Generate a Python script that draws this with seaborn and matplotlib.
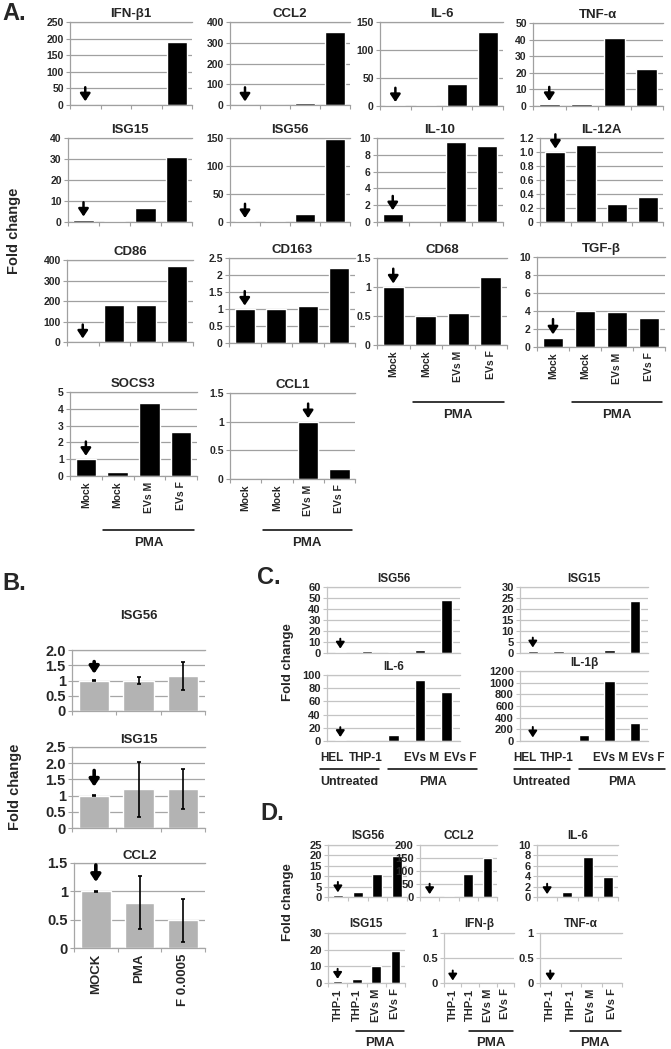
import numpy as np
import matplotlib
matplotlib.use("Agg")
import matplotlib.pyplot as plt
import matplotlib.transforms as mtransforms
import seaborn as sns

sns.set_style("white")
plt.rcParams["font.family"] = ["Liberation Sans", "DejaVu Sans"]
plt.rcParams["font.weight"] = "bold"

W, H = 671, 1049

# ---------------- Panel A data ----------------
a_labels = ["Mock", "Mock", "EVs M", "EVs F"]
a_ifnb1 = [1, 0.2, 0.5, 190]
a_ccl2 = [1, 0.5, 8, 350]
a_il6 = [1, 1, 40, 132]
a_tnfa = [1, 1, 41, 22]
a_isg15 = [1, 0.3, 6.6, 31]
a_isg56 = [1, 1, 15, 148]
a_il10 = [1, 0.02, 9.5, 9.0]
a_il12a = [1.0, 1.1, 0.26, 0.36]
a_cd86 = [1, 180, 180, 370]
a_cd163 = [1, 1, 1.08, 2.22]
a_cd68 = [1, 0.5, 0.55, 1.17]
a_tgfb = [1, 4.0, 3.85, 3.2]
a_socs3 = [1, 0.25, 4.35, 2.6]
a_ccl1 = [0, 0, 1, 0.17]

# ---------------- Panel B data ----------------
b_labels = ["MOCK", "PMA", "F 0.0005"]
b_isg56 = [1.0, 1.0, 1.15]
b_isg56_err = [0.005, 0.12, 0.45]
b_isg15 = [1.0, 1.19, 1.2]
b_isg15_err = [0.005, 0.84, 0.62]
b_ccl2 = [1.0, 0.8, 0.49]
b_ccl2_err = [0.005, 0.47, 0.38]

# ---------------- Panel C data ----------------
c_labels = ["HEL", "THP-1", "EVs M", "EVs F"]
c_isg56 = [1, 1.5, 0.5, 2.5, 48]
c_isg15 = [1, 1, 0.5, 1.2, 23.5]
c_il6 = [1, 0.5, 8.5, 92, 75]
c_il1b = [1, 1, 108, 1030, 310]

# ---------------- Panel D data ----------------
d_labels = ["THP-1", "THP-1", "EVs M", "EVs F"]
d_isg56 = [1, 2.5, 11, 19.5]
d_ccl2 = [1, 2, 90, 150]
d_il6 = [0.05, 1, 7.7, 3.8]
d_isg15 = [1, 2.2, 10.5, 19.5]
d_ifnb = [0, 0, 0, 0]
d_tnfa = [0, 0, 0, 0]


def px_axes(fig, x0, y0, x1, y1):
    return fig.add_axes([x0 / W, 1 - y1 / H, (x1 - x0) / W, (y1 - y0) / H])


def bar_panel(fig, box, title, values, yticks, ylabels=None, color="black", width=0.65,
              arrow=None, arrow_gap=0.04, arrow_len=0.17, arrow_lw=1.8, head=0.3,
              grid="#a0a0a0", tsize=9.5, ysize=7.5, pad=3.5, err=None,
              xlabels=None, xsize=7.5, boundary_ticks=True):
    ax = px_axes(fig, *box)
    n = len(values)
    sns.barplot(x=np.arange(n), y=values, color=color, width=width, saturation=1,
                errorbar=None, ax=ax)
    if err is not None:
        ax.errorbar(np.arange(n), values, yerr=err, fmt="none", ecolor="black",
                    elinewidth=1.2, capsize=1.5, capthick=1.2)
    ax.set_xlim(-0.5, n - 0.5)
    ax.set_ylim(yticks[0], yticks[-1])
    ax.set_yticks(yticks)
    if ylabels is None:
        ylabels = [f"{t:g}" for t in yticks]
    ax.set_yticklabels(ylabels, fontsize=ysize, fontweight="bold")
    ax.yaxis.grid(True, color=grid, lw=0.9)
    ax.set_axisbelow(True)
    ax.set_xlabel("")
    ax.set_ylabel("")
    for side in ["left", "bottom", "top"]:
        ax.spines[side].set_color(grid)
        ax.spines[side].set_linewidth(0.9)
    ax.spines["right"].set_visible(False)
    ax.tick_params(axis="y", length=3, width=0.8, color=grid, pad=1.5, left=True)
    ax.tick_params(axis="x", which="major", length=0)
    if boundary_ticks:
        ax.set_xticks(np.arange(n + 1) - 0.5, minor=True)
        ax.tick_params(axis="x", which="minor", length=3, width=0.8, color=grid, bottom=True)
    if xlabels is not None:
        ax.set_xticks(range(len(xlabels)))
        ax.set_xticklabels(xlabels, rotation=90, fontsize=xsize, fontweight="bold")
        ax.tick_params(axis="x", which="major", pad=4)
    else:
        ax.set_xticks(range(n))
        ax.set_xticklabels([])
    ax.set_title(title, fontsize=tsize, fontweight="bold", pad=pad)
    if arrow is not None:
        top = yticks[-1]
        tip = values[arrow] + arrow_gap * top
        ax.annotate("", xy=(arrow, tip), xytext=(arrow, tip + arrow_len * top),
                    arrowprops=dict(arrowstyle=f"-|>,head_width={head},head_length={head * 1.5}",
                                    color="black", lw=arrow_lw, shrinkA=0, shrinkB=0),
                    annotation_clip=False)
    return ax


def group_label(fig, ax, x0, x1, y_line, y_text, text, size=9.5):
    tr = mtransforms.blended_transform_factory(ax.transData, fig.transFigure)
    ax.plot([x0, x1], [1 - y_line / H] * 2, transform=tr, color="black", lw=1.1, clip_on=False)
    ax.text((x0 + x1) / 2, 1 - y_text / H, text, transform=tr, ha="center", va="center",
            fontsize=size, fontweight="bold")


fig = plt.figure(figsize=(W / 100, H / 100), dpi=100)

# ---------------- Panel A ----------------
bar_panel(fig, (70, 22, 192, 105), "IFN-β1", a_ifnb1, [0, 50, 100, 150, 200, 250], arrow=0)
bar_panel(fig, (230, 22, 350, 105), "CCL2", a_ccl2, [0, 100, 200, 300, 400], arrow=0)
bar_panel(fig, (380, 22, 503, 106), "IL-6", a_il6, [0, 50, 100, 150], arrow=0)
bar_panel(fig, (533, 23, 663, 106), "TNF-α", a_tnfa, [0, 10, 20, 30, 40, 50], arrow=0)

bar_panel(fig, (68, 138, 192, 222), "ISG15", a_isg15, [0, 10, 20, 30, 40], arrow=0)
bar_panel(fig, (230, 138, 350, 222), "ISG56", a_isg56, [0, 50, 100, 150], arrow=0)
bar_panel(fig, (377, 138, 503, 222), "IL-10", a_il10, [0, 2, 4, 6, 8, 10], arrow=0)
bar_panel(fig, (540, 138, 663, 222), "IL-12A", a_il12a, [0, 0.2, 0.4, 0.6, 0.8, 1.0, 1.2],
          ylabels=["0", "0.2", "0.4", "0.6", "0.8", "1.0", "1.2"], arrow=0)

bar_panel(fig, (67, 260, 193, 342), "CD86", a_cd86, [0, 100, 200, 300, 400], arrow=0)
bar_panel(fig, (229, 258, 355, 343), "CD163", a_cd163, [0, 0.5, 1, 1.5, 2, 2.5], arrow=0)
ax_cd68 = bar_panel(fig, (377, 258, 507, 345), "CD68", a_cd68, [0, 0.5, 1, 1.5], arrow=0,
                    xlabels=a_labels)
ax_tgfb = bar_panel(fig, (537, 257, 665, 347), "TGF-β", a_tgfb, [0, 2, 4, 6, 8, 10], arrow=0,
                    xlabels=a_labels)

ax_socs3 = bar_panel(fig, (70, 392, 197, 476), "SOCS3", a_socs3, [0, 1, 2, 3, 4, 5], arrow=0,
                     xlabels=a_labels)
ax_ccl1 = bar_panel(fig, (230, 393, 355, 479), "CCL1", a_ccl1, [0, 0.5, 1, 1.5], arrow=2,
                    xlabels=a_labels)

group_label(fig, ax_cd68, 0.6, 3.4, 402, 415, "PMA")
group_label(fig, ax_tgfb, 0.6, 3.4, 402, 415, "PMA")
group_label(fig, ax_socs3, 0.55, 3.4, 530, 543, "PMA")
group_label(fig, ax_ccl1, 0.55, 3.4, 530, 543, "PMA")

fig.text(2 / W, 1 - 14 / H, "A.", fontsize=17, fontweight="bold", va="center", ha="left")
fig.text(14 / W, 1 - 231 / H, "Fold change", fontsize=10.5, fontweight="bold", rotation=90,
         va="center", ha="center")

# ---------------- Panel B ----------------
bkw = dict(color="#b3b3b3", width=0.68, arrow=0, arrow_gap=0.11, arrow_len=0.2, arrow_lw=2.6,
           head=0.28, grid="#a6a6a6", tsize=9.5, ysize=10.5)
bar_panel(fig, (72, 650, 205, 711), "ISG56", b_isg56, [0, 0.5, 1, 1.5, 2.0],
          ylabels=["0", "0.5", "1", "1.5", "2.0"], err=b_isg56_err, pad=22, **bkw)
bar_panel(fig, (72, 747, 205, 828), "ISG15", b_isg15, [0, 0.5, 1, 1.5, 2.0, 2.5],
          ylabels=["0", "0.5", "1", "1.5", "2.0", "2.5"], err=b_isg15_err, pad=3, **bkw)
bar_panel(fig, (74, 863, 205, 948), "CCL2", b_ccl2, [0, 0.5, 1, 1.5],
          err=b_ccl2_err, pad=3, xlabels=b_labels, xsize=9.5, **bkw)

fig.text(2 / W, 1 - 584 / H, "B.", fontsize=17, fontweight="bold", va="center", ha="left")
fig.text(15 / W, 1 - 787 / H, "Fold change", fontsize=10.5, fontweight="bold", rotation=90,
         va="center", ha="center")

# ---------------- Panel C ----------------
ckw = dict(width=0.4, arrow=0, arrow_gap=0.05, arrow_len=0.15, arrow_lw=1.4, head=0.25,
           grid="#c4c4c4", tsize=8.5, ysize=8, pad=3.5, boundary_ticks=False)
bar_panel(fig, (327, 587, 460, 653), "ISG56", c_isg56, [0, 10, 20, 30, 40, 50, 60], **ckw)
bar_panel(fig, (520, 587, 648, 653), "ISG15", c_isg15, [0, 5, 10, 15, 20, 25, 30], **ckw)
ax_cil6 = bar_panel(fig, (327, 675, 460, 741), "IL-6", c_il6, [0, 20, 40, 60, 80, 100], **ckw)
ax_cil1b = bar_panel(fig, (520, 671, 648, 741), "IL-1β", c_il1b,
                     [0, 200, 400, 600, 800, 1000, 1200], **ckw)
for ax in (ax_cil6, ax_cil1b):
    ax.set_xticks([-0.3, 0.95, 3.05, 4.5])
    ax.set_xticklabels(c_labels, fontsize=8.5, fontweight="bold")
    ax.tick_params(axis="x", which="major", length=0, pad=8)
    group_label(fig, ax, -0.75, 1.45, 769, 782, "Untreated", size=9)
    group_label(fig, ax, 1.8, 5.15, 769, 782, "PMA", size=9)

fig.text(257 / W, 1 - 578 / H, "C.", fontsize=17, fontweight="bold", va="center", ha="left")
fig.text(288 / W, 1 - 662 / H, "Fold change", fontsize=9.5, fontweight="bold", rotation=90,
         va="center", ha="center")

# ---------------- Panel D ----------------
dkw = dict(width=0.5, arrow=0, arrow_gap=0.05, arrow_len=0.2, arrow_lw=1.4, head=0.25,
           grid="#c4c4c4", tsize=8.5, ysize=8, pad=4, xsize=8)
bar_panel(fig, (328, 845, 407, 897), "ISG56", d_isg56, [0, 5, 10, 15, 20, 25], **dkw)
bar_panel(fig, (420, 845, 497, 897), "CCL2", d_ccl2, [0, 50, 100, 150, 200], **dkw)
bar_panel(fig, (537, 845, 618, 897), "IL-6", d_il6, [0, 2, 4, 6, 8, 10], **dkw)
ax_d1 = bar_panel(fig, (328, 933, 405, 983), "ISG15", d_isg15, [0, 10, 20, 30],
                  xlabels=d_labels, **dkw)
ax_d2 = bar_panel(fig, (444, 933, 514, 983), "IFN-β", d_ifnb, [0, 0.5, 1],
                  xlabels=d_labels, **dkw)
ax_d3 = bar_panel(fig, (540, 933, 622, 983), "TNF-α", d_tnfa, [0, 0.5, 1],
                  xlabels=d_labels, **dkw)
for ax in (ax_d1, ax_d2, ax_d3):
    group_label(fig, ax, 0.95, 3.45, 1031, 1043, "PMA")

fig.text(260 / W, 1 - 813 / H, "D.", fontsize=17, fontweight="bold", va="center", ha="left")
fig.text(288 / W, 1 - 902 / H, "Fold change", fontsize=9.5, fontweight="bold", rotation=90,
         va="center", ha="center")

fig.savefig("out.png", dpi=100)
